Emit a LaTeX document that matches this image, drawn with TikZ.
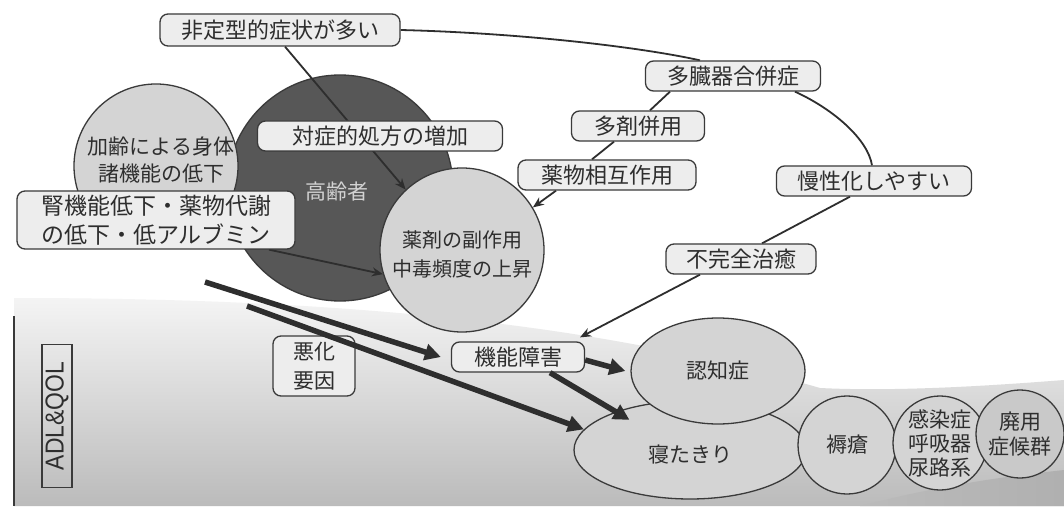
\documentclass[tikz,border=0pt]{standalone}
\usepackage{fontspec}
\newfontfamily\jp{Noto Sans CJK JP}
\setsansfont{Liberation Sans}
\usetikzlibrary{arrows.meta,shapes.geometric}
\pgfdeclarelayer{back}
\pgfdeclarelayer{mid}
\pgfsetlayers{back,mid,main}
\definecolor{ink}{HTML}{2E2E2E}
\definecolor{edge}{HTML}{3A3A3A}
\definecolor{boxfill}{HTML}{EDEDED}
\definecolor{circfill}{HTML}{D4D4D4}
\definecolor{darkcirc}{HTML}{575757}
\definecolor{bgtop}{HTML}{F4F4F4}
\definecolor{bgbot}{HTML}{BBBBBB}
\begin{document}
\begin{tikzpicture}[x=1pt,y=-1pt,
  lbl/.style={draw=edge, line width=1.3pt, rounded corners=8pt, fill=boxfill,
    font=\jp\fontsize{22}{29}\selectfont, inner sep=0pt, align=center, text=ink},
  circ/.style={circle, draw=edge, line width=1.3pt, fill=circfill, inner sep=0pt,
    align=center, text=ink, font=\jp\fontsize{21}{27}\selectfont},
  ell/.style={ellipse, draw=edge, line width=1.3pt, fill=circfill, inner sep=0pt,
    align=center, text=ink, font=\jp\fontsize{21}{27}\selectfont},
  conn/.style={draw=ink, line width=1.8pt},
  thinarrow/.style={conn, -{Stealth[length=11pt,width=9pt]}},
  bigarrow/.style={draw=ink, line width=5.5pt, -{Triangle[length=16pt,width=16pt]}}
]
\useasboundingbox (0,0) rectangle (1064,518);

\begin{pgfonlayer}{back}
  \fill[white] (0,0) rectangle (1064,518);
  % ADL & QOL declining area
  \shade[top color=bgtop, bottom color=bgbot]
    (14,298) .. controls (380,298) and (620,330) .. (820,388)
    .. controls (900,392) and (1000,385) .. (1064,380)
    -- (1064,506) -- (14,506) -- cycle;
  \shade[left color=bgbot, right color=gray!62]
    (860,506) .. controls (930,488) and (990,478) .. (1064,470) -- (1064,506) -- cycle;
  \draw[gray!45!black, line width=1.6pt] (14,316) -- (14,506);
  % circles
  \node[circ, fill=darkcirc, minimum size=226pt] (koreisha) at (340,188) {};
  \node[text=gray!35, font=\jp\fontsize{21}{27}\selectfont] (korlabel) at (337,192) {高齢者};
  \node[circ, minimum size=164pt] (karei) at (156,166) {};
  \node[circ, minimum size=164pt] (yakuzai) at (462,250) {};
  \node[ell, minimum width=232pt, minimum height=98pt] (netakiri) at (690,450) {};
  \node[ell, minimum width=174pt, minimum height=106pt] (ninchi) at (718,371) {認知症};
  \node[circ, minimum size=98pt] (jokuso) at (847,445) {褥瘡};
  \node[circ, minimum size=94pt] (kansen) at (940,443) {感染症\\[-3pt]呼吸器\\[-3pt]尿路系};
  \node[circ, minimum size=88pt, fill=gray!42] (haiyo) at (1020,434) {廃用\\[-2pt]症候群};
\end{pgfonlayer}

% texts inside circles
\node[text=ink, align=center, font=\jp\fontsize{21}{27}\selectfont] (kareitxt) at (161,160) {加齢による身体\\諸機能の低下};
\node[text=ink, align=center, font=\jp\fontsize{20}{29}\selectfont] (yakutxt) at (462,254) {薬剤の副作用\\中毒頻度の上昇};
\node[text=ink, font=\jp\fontsize{21}{27}\selectfont] (netatxt) at (690,455) {寝たきり};

% label boxes
\node[lbl, minimum width=240pt, minimum height=32pt] (hitei) at (280,30) {非定型的症状が多い};
\node[lbl, minimum width=245pt, minimum height=30pt] (taisho) at (380,136) {対症的処方の増加};
\node[lbl, minimum width=278pt, minimum height=58pt, font=\jp\fontsize{23}{29}\selectfont] (jin) at (156,220) {腎機能低下・薬物代謝\\の低下・低アルブミン};
\node[lbl, minimum width=175pt, minimum height=30pt] (tazo) at (733,76) {多臓器合併症};
\node[lbl, minimum width=133pt, minimum height=30pt] (tazai) at (638,126) {多剤併用};
\node[lbl, minimum width=178pt, minimum height=30pt] (yakubutsu) at (607,175) {薬物相互作用};
\node[lbl, minimum width=195pt, minimum height=30pt] (mansei) at (874,181) {慢性化しやすい};
\node[lbl, minimum width=150pt, minimum height=30pt] (fukan) at (741,259) {不完全治癒};
\node[lbl, minimum width=133pt, minimum height=30pt] (kinou) at (518,357) {機能障害};
\node[lbl, minimum width=82pt, minimum height=60pt, font=\jp\fontsize{21}{29}\selectfont] (akka) at (314,366) {悪化\\要因};
\node[draw=edge, line width=1.2pt, rotate=90, minimum width=143pt, minimum height=30pt,
  inner sep=0pt, text=ink, font=\sffamily\fontsize{26}{26}\selectfont] (adl) at (57,416)
  {\scalebox{0.88}[1]{ADL\&QOL}};

\coordinate (t1) at (205,282);
\coordinate (t2) at (247,306);

\begin{pgfonlayer}{mid}
  \draw[conn] (hitei.east) .. controls (520,33) and (640,47) .. ([xshift=-33pt]tazo.north);
  \draw[conn] ([xshift=-63pt]tazo.south) -- ([xshift=12pt]tazai.north);
  \draw[conn] ([xshift=-24pt]tazai.south) -- ([xshift=-15pt]yakubutsu.north);
  \draw[thinarrow] ([xshift=-51pt]yakubutsu.south) -- (yakuzai.31);
  \draw[conn] ([xshift=62pt]tazo.south) .. controls (835,110) and (868,140) .. ([xshift=-2pt]mansei.north);
  \draw[conn] ([xshift=-24pt]mansei.south) -- ([xshift=21pt]fukan.north);
  \draw[thinarrow] ([xshift=-41pt]fukan.south) -- ([xshift=62pt,yshift=4pt]kinou.north);
  \draw[thinarrow] ([xshift=5pt]hitei.south) -- (yakuzai.133);
  \draw[thinarrow] ([xshift=113pt]jin.south) -- (yakuzai.197);
\end{pgfonlayer}

\draw[bigarrow] (t1) -- ([xshift=-10pt]kinou.west);
\draw[bigarrow] (t2) -- (netakiri.169);
\draw[bigarrow] ([yshift=-3pt]kinou.east) -- ([xshift=-5pt]ninchi.west);
\draw[bigarrow] ([xshift=32pt]kinou.south) -- ([xshift=22pt,yshift=-5pt]netakiri.north west);
\end{tikzpicture}
\end{document}
